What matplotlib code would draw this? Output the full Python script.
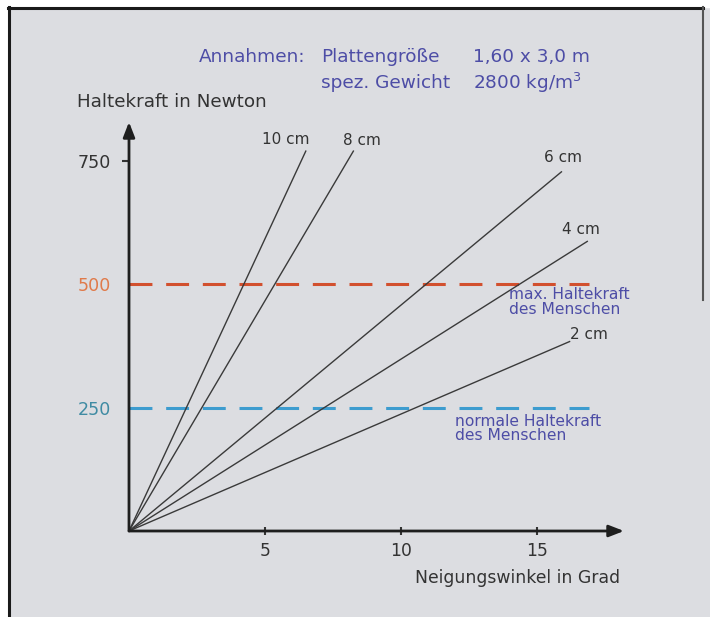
import matplotlib.pyplot as plt
from matplotlib.lines import Line2D
from matplotlib.patches import Rectangle

plt.rcParams['font.family'] = 'DejaVu Sans'
plt.rcParams['lines.scale_dashes'] = False

W, H = 710, 617

# values
thickness = ['10 cm', '8 cm', '6 cm', '4 cm', '2 cm']
end_angle = [6.5, 8.25, 15.9, 16.85, 16.2]      # Grad
end_force = [770, 770, 728, 587, 384]           # Newton
limit_force = [500, 250]
limit_text = ['max. Haltekraft\ndes Menschen', 'normale Haltekraft\ndes Menschen']
limit_end = 16.9
x_ticks = [5, 10, 15]
y_ticks = [250, 500, 750]

# layout / style
label_off = [(-20, 12), (9, 11), (2, 14), (-6, 12), (19, 7)]
limit_colors = ['#d2502e', '#3d9ccf']
limit_lbl_colors = ['#e07a4a', '#3f8ba3']
limit_text_x = [13.97, 11.99]
limit_text_dy = [-3, -6]
txt = '#333333'
note = '#4d4da6'

fig = plt.figure(figsize=(W / 100, H / 100), dpi=100, facecolor='#dcdde1')

# frame
fig.add_artist(Rectangle((0, 0), 8 / W, 1, transform=fig.transFigure, color='white', zorder=0))
fig.add_artist(Rectangle((0, 1 - 7 / H), 1, 7 / H, transform=fig.transFigure, color='white', zorder=0))
fig.add_artist(Line2D([8.5 / W, 8.5 / W], [0, 1 - 7 / H], color='#1a1a1a', lw=2.2))
fig.add_artist(Line2D([8 / W, 703 / W], [1 - 7.5 / H, 1 - 7.5 / H], color='#1a1a1a', lw=2.2))
fig.add_artist(Line2D([703 / W, 703 / W], [1 - 7 / H, 1 - 300 / H], color='#555555', lw=1.5))

ax = fig.add_axes([129 / W, 1 - 531 / H, (624 - 129) / W, (531 - 122) / H])
ax.set_xlim(0, 18.2)
ax.set_ylim(0, 829)
ax.patch.set_visible(False)
for s in ax.spines.values():
    s.set_visible(False)

# axes with arrows
arr = dict(arrowstyle='-|>,head_length=0.9,head_width=0.35', color='#1e1e1e', lw=2,
           shrinkA=0, shrinkB=0)
ax.annotate('', xy=(18.2, 0), xytext=(0, 0), arrowprops=arr, annotation_clip=False)
ax.annotate('', xy=(0, 829), xytext=(0, 0), arrowprops=arr, annotation_clip=False)

ax.set_xticks(x_ticks)
ax.tick_params(axis='x', direction='inout', length=6, width=1.5, color=txt,
               pad=5, labelsize=12.3, labelcolor=txt)
ax.set_yticks(y_ticks)
ax.tick_params(axis='y', direction='out', length=5, width=1.5, color=txt,
               pad=8, labelsize=12.6, labelcolor=txt)
yt = ax.yaxis.get_major_ticks()
for i, c in enumerate(limit_lbl_colors[::-1]):
    yt[i].tick1line.set_visible(False)
    yt[i].label1.set_color(c)

# limit lines
for f, c, t, tx, dy in zip(limit_force, limit_colors, limit_text, limit_text_x, limit_text_dy):
    ax.plot([0, limit_end], [f, f], color=c, lw=2.2, ls=(0, (16.5, 9.9)))
    ax.annotate(t, xy=(tx, f), xytext=(0, dy), textcoords='offset pixels',
                ha='left', va='top', fontsize=11.2, color=note, linespacing=0.95)

# force lines
for lbl, a, f, off in zip(thickness, end_angle, end_force, label_off):
    ax.plot([0, a], [0, f], color='#3a3a3a', lw=1.0)
    ax.annotate(lbl, xy=(a, f), xytext=off, textcoords='offset pixels',
                ha='center', va='center', fontsize=11, color=txt)

fig.text(77 / W, 1 - 102 / H, 'Haltekraft in Newton', ha='left', va='center',
         fontsize=13.2, color=txt)
fig.text(620 / W, 1 - 578 / H, 'Neigungswinkel in Grad', ha='right', va='center',
         fontsize=12.4, color=txt)

fig.text(199 / W, 1 - 57 / H, 'Annahmen:', ha='left', va='center', fontsize=13.3, color=note)
fig.text(321 / W, 1 - 57 / H, 'Plattengröße', ha='left', va='center', fontsize=13.3, color=note)
fig.text(473 / W, 1 - 57 / H, '1,60 x 3,0 m', ha='left', va='center', fontsize=13.3, color=note)
fig.text(321 / W, 1 - 83 / H, 'spez. Gewicht', ha='left', va='center', fontsize=13.3, color=note)
fig.text(473 / W, 1 - 83 / H, '2800 kg/m$^3$', ha='left', va='center', fontsize=13.3, color=note)

fig.savefig('out.png', dpi=100, facecolor=fig.get_facecolor())
